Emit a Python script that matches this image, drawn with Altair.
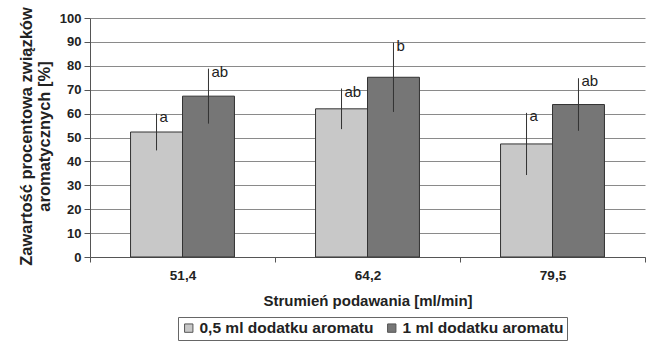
import altair as alt
import pandas as pd

flows = ["51,4", "64,2", "79,5"]
series = ["0,5 ml dodatku aromatu", "1 ml dodatku aromatu"]
values_05 = [52.3, 62.0, 47.3]
values_1 = [67.3, 75.2, 63.8]
err_05 = [7.7, 8.5, 13.0]
err_1 = [11.5, 14.5, 11.0]
labels_05 = ["a", "ab", "a"]
labels_1 = ["ab", "b", "ab"]
y_ticks = list(range(0, 101, 10))

rows = []
for i, f in enumerate(flows):
    for s, v, e, l in [(series[0], values_05[i], err_05[i], labels_05[i]),
                       (series[1], values_1[i], err_1[i], labels_1[i])]:
        rows.append({"flow": f, "series": s, "value": v, "lo": v - e, "hi": v + e, "label": l})
df = pd.DataFrame(rows)

FONT = "Liberation Sans"

x_axis = alt.Axis(title="Strumień podawania [ml/min]", labelAngle=0, ticks=True, tickBand="extent",
                  tickSize=5, tickColor="#555",
                  labelPadding=6, labelFontSize=13.5, labelFontWeight="bold",
                  titleFontSize=15, titleFontWeight="bold", titlePadding=12,
                  domainColor="#555", labelColor="#222", titleColor="#222")
y_axis = alt.Axis(values=y_ticks, title=["Zawartość procentowa związków", "aromatycznych [%]"],
                  labelFontSize=13, labelFontWeight="bold", tickSize=6, labelPadding=3,
                  grid=True, gridColor="#8a8a8a", gridWidth=1, tickColor="#555", domainColor="#555",
                  labelColor="#222")
y_scale = alt.Scale(domain=[0, 100])

x = alt.X("flow:N", sort=flows, scale=alt.Scale(paddingInner=0, paddingOuter=0), axis=x_axis)
xo = alt.XOffset("series:N", sort=series, scale=alt.Scale(paddingOuter=0.78, paddingInner=0))

bars = alt.Chart(df).mark_bar(stroke="#333", strokeWidth=1).encode(
    x=x, xOffset=xo,
    y=alt.Y("value:Q", scale=y_scale, axis=y_axis),
    fill=alt.Fill("series:N", sort=series,
                  scale=alt.Scale(domain=series, range=["#c8c8c8", "#767676"]),
                  legend=alt.Legend(title=None, orient="none", legendX=88, legendY=299,
                                    direction="horizontal", symbolType="square", symbolSize=70,
                                    symbolStrokeColor="#555", symbolStrokeWidth=1,
                                    labelFontSize=15.5, labelFontWeight="bold", labelColor="#222",
                                    labelLimit=400, columnPadding=10, labelOffset=3, padding=3,
                                    strokeColor="#666")),
)

errs = alt.Chart(df).mark_rule(color="#333", strokeWidth=1).encode(
    x=x, xOffset=xo, y=alt.Y("lo:Q", scale=y_scale, axis=y_axis), y2="hi:Q")

texts = alt.Chart(df).mark_text(align="left", baseline="middle", dx=3, dy=3,
                                fontSize=15, font=FONT, color="#222").encode(
    x=x, xOffset=xo, y=alt.Y("hi:Q", scale=y_scale, axis=y_axis), text="label:N")

chart = alt.layer(bars, errs, texts).properties(
    width=555, height=239,
    autosize=alt.AutoSizeParams(type="none"),
    padding={"left": 90, "top": 18, "right": 1, "bottom": 92},
).configure(font=FONT).configure_view(stroke=None).configure_axisY(
    titleFontSize=16.5, titleFontWeight="bold", titleAngle=-90,
    titleX=-72, titleY=118, titleBaseline="top", titleAlign="center", titleColor="#222",
    titleLimit=400)

chart.save("out.html", embed_options={"renderer": "svg", "actions": False})
